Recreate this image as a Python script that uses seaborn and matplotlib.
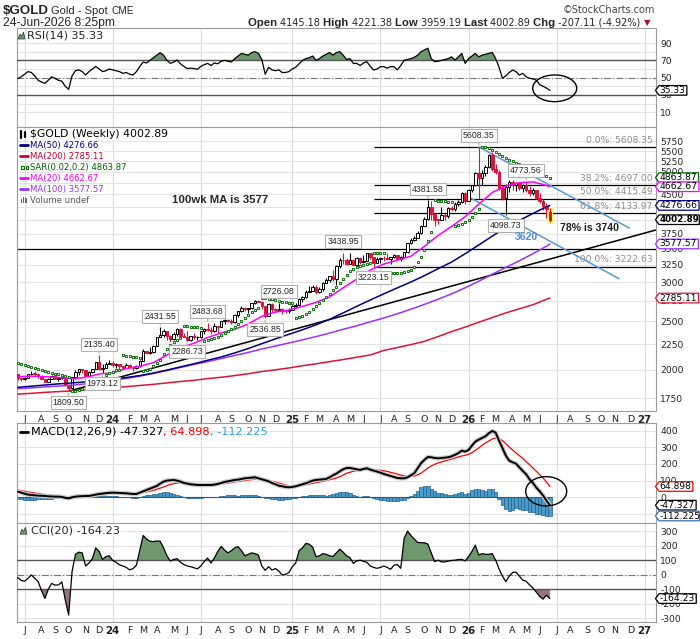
import numpy as np
import pandas as pd
import matplotlib
matplotlib.use("Agg")
import matplotlib.pyplot as plt
import matplotlib.dates as mdates
from matplotlib.patches import Polygon, Ellipse, Rectangle
from matplotlib.ticker import NullLocator
import seaborn as sns

sns.set_theme(style="white")
plt.rcParams["font.family"] = ["DejaVu Sans"]

W, H = 700, 639

# ---------------- data (weekly bars, first bar = week of 2023-06-19) ----------------
first_week = "2023-06-19"
opens = [1958,1921,1919,1925,1955,1962,1959,1943,1914,1889,
         1914,1940,1919,1924,1925,1866,1833,1932,1981,2006,
         1992,1940,1981,2002,2072,2004,2019,2053,2063,2045,
         2049,2029,2018,2039,2024,2013,2035,2083,2179,2155,
         2165,2230,2329,2344,2392,2337,2301,2360,2415,2334,
         2327,2293,2332,2321,2326,2391,2411,2400,2386,2443,
         2431,2507,2512,2503,2497,2578,2622,2658,2653,2657,
         2721,2747,2737,2685,2563,2715,2650,2633,2648,2622,
         2621,2640,2690,2703,2770,2800,2861,2883,2936,2858,
         2910,2984,3023,3084,3037,3237,3327,3319,3258,3325,
         3250,3357,3289,3310,3433,3368,3274,3337,3355,3350,
         3336,3363,3398,3336,3371,3448,3586,3643,3685,3760,
         3886,4018,4250,4113,4002,4000,4085,4065,4220,4200,
         4300,4340,4530,4370,4600,4690,4980,4860,4980,5110,
         5400,5060,5000,4640,4420,4650,4760,4700,4740,4640,
         4690,4600,4520,4590,4430,4360,4270,4145.18]
highs = [1958,1926,1935,1963,1987,1983,1972,1948,1916,1925,
         1953,1953,1933,1947,1936,1871,1933,1997,2009,2010,
         1993,1988,2008,2075,2135.40,2048,2071,2088,2078,2062,
         2057,2036,2066,2050,2031,2041,2088,2195,2183,2223,
         2236,2330,2431.55,2418,2393,2352,2378,2422,2430,2364,
         2388,2336,2369,2339,2392,2424,2483.68,2432,2477,2447,
         2509,2531,2528,2529,2586,2625,2685,2672,2664,2724,
         2758,2765,2750,2688,2721,2721,2665,2726.08,2664,2639,
         2665,2697,2725,2786,2817,2886,2942,2955,2956,2930,
         3005,3057,3087,3168,3245,3357,3438.95,3360,3435,3330,
         3365,3366,3403,3437,3436,3370,3365,3375,3377,3434,
         3363,3409,3400,3379,3453,3600,3674,3707,3791,3897,
         4059,4381.58,4370,4118,4020,4245,4130,4245,4265,4350,
         4380,4550,4560,4620,4700,5000,5608.35,5050,5150,5420,
         5475,5180,5040,4700,4720,4820,4800,4770,4760,4720,
         4773.56,4680,4640,4600,4520,4400,4330,4221.38]
lows = [1910,1893,1902,1922,1951,1942,1926,1912,1885,1884,
        1913,1915,1901,1913,1857,1809.50,1833,1917,1953,1970,
        1932,1931,1965,2001,1993,1973.12,2016,2050,2024,2013,
        2002,2001,2012,2015,1984,2010,2025,2079,2146,2146,
        2163,2228,2326,2324,2291,2277,2298,2338,2325,2323,
        2286.73,2288,2303,2293,2319,2353,2393,2353,2380,2365,
        2431,2470,2491,2472,2485,2546,2615,2624,2604,2646,
        2709,2730,2643,2536.85,2560,2605,2614,2627,2583,2602,
        2597,2633,2656,2700,2733,2790,2860,2880,2833,2855,
        2880,2982,3000,3015,2957,3194,3260,3245,3255,3240,
        3248,3260,3280,3300,3340,3223.15,3270,3283,3310,3325,
        3268,3350,3330,3311,3365,3437,3580,3627,3680,3755,
        3884,4000,4004,3886,3930,3995,4000,4040,4160,4165,
        4270,4330,4300,4360,4560,4680,4400,4700,4900,5080,
        5020,4950,4600,4380,4098.73,4560,4600,4580,4600,4560,
        4560,4470,4480,4400,4330,4180,4040,3959.19]
closes = [1921,1919,1925,1955,1962,1959,1943,1914,1889,1914,
          1940,1919,1924,1925,1866,1833,1932,1981,2006,1992,
          1940,1981,2002,2072,2004,2019,2053,2063,2045,2049,
          2029,2018,2039,2024,2013,2035,2083,2179,2155,2165,
          2230,2329,2344,2392,2337,2301,2360,2415,2334,2327,
          2293,2332,2321,2326,2391,2411,2400,2386,2443,2431,
          2507,2512,2503,2497,2578,2622,2658,2653,2657,2721,
          2747,2737,2685,2563,2715,2650,2633,2648,2622,2621,
          2640,2690,2703,2770,2800,2861,2883,2936,2858,2910,
          2984,3023,3084,3037,3237,3327,3319,3258,3325,3250,
          3357,3289,3310,3433,3368,3274,3337,3355,3350,3336,
          3363,3398,3336,3371,3448,3586,3643,3685,3760,3886,
          4018,4250,4113,4002,4000,4085,4065,4220,4200,4300,
          4340,4530,4370,4600,4690,4980,4860,4980,5110,5400,
          5060,5000,4640,4420,4650,4760,4700,4740,4640,4690,
          4600,4520,4590,4430,4360,4270,4210,4002.89]
sar = [2062,2055,2046,2036,2026,2016,2006,1996,1985,1975,
       1966,1960,1955,1950,1945,1935,1810,1813,1820,1832,
       1845,1858,1870,1882,1896,1925,1948,1965,1980,1992,
       2000,2135,2131,2127,2123,2118,2113,1984,1995,2010,
       2030,2058,2095,2150,2200,2240,2268,2290,2310,2450,
       2446,2441,2436,2431,2426,2286,2295,2305,2318,2330,
       2345,2365,2390,2415,2440,2470,2505,2545,2580,2610,
       2640,2665,2790,2785,2776,2767,2758,2749,2741,2733,
       2725,2717,2537,2548,2562,2582,2610,2645,2685,2722,
       2758,2796,2840,2885,2935,2985,3040,3100,3150,3185,
       3212,3235,3252,3265,3275,3439,3437,3434,3431,3125,
       3126,3127,3128,3130,3135,3150,3175,3220,3285,3370,
       3480,3620,3790,4381.58,4375,4368,4360,4352,4345,3886,
       3905,3930,3965,4005,4055,4120,4210,5608.35,5595,5570,
       5530,5480,5435,5385,5335,5285,5250,5215,5175,5135,
       5090,5040,5005,4975,4950,4925,4895,4863.87]

# moving averages, read every 4th week (week index in ma_weeks)
ma_weeks = [0,4,8,12,16,20,24,28,32,36,40,44,48,52,56,60,64,68,72,76,
            80,84,88,92,96,100,104,108,112,116,120,124,128,132,136,140,144,148,152,156,157]
ma20 = [1935,1940,1935,1928,1918,1928,1960,1970,2010,2030,2065,2140,2210,2260,2320,2370,2410,2470,2560,2610,
        2635,2680,2730,2800,2920,3040,3170,3260,3320,3380,3540,3720,3880,4060,4300,4540,4680,4750,4770,4690,4662.67]
ma50 = [1842,1852,1862,1872,1880,1890,1902,1913,1928,1945,1968,1995,2025,2055,2088,2120,2160,2205,2255,2305,
        2355,2405,2460,2525,2600,2680,2760,2840,2920,3000,3090,3190,3290,3420,3560,3710,3860,3990,4120,4250,4276.66]
ma100 = [1830,1838,1846,1853,1860,1872,1886,1902,1920,1940,1965,1992,2020,2048,2075,2105,2135,2165,2200,2230,
         2262,2295,2330,2368,2410,2450,2495,2540,2590,2645,2705,2770,2840,2920,3010,3110,3210,3310,3420,3540,3577.57]
ma200 = [1785,1792,1800,1806,1812,1822,1830,1838,1848,1858,1868,1880,1893,1903,1918,1930,1945,1962,1982,1998,
         2015,2036,2054,2075,2095,2118,2140,2185,2215,2245,2280,2330,2385,2435,2490,2545,2600,2650,2700,2770,2785.11]

rsi = [49,51,54,57,56,52,47,45,43.5,47,
       51,49,47,46,40,36.5,52,58,59,57,
       53,57,60,63,60,57,58,60,59,58,
       57,55,56,54,53,57,63,68,67,70,
       73,76,78.8,76,70,66.5,68,70.4,66,63,
       60.5,61,60.5,59.6,63,65,66.5,64,67,66,
       69,70,69,68,72,75,78,77,76,79,
       80,78,71,54,62,59,58,59,56,56,
       57,60,62,66,70,72,73,75,70,72,
       75,77,79,76,79,80,76,71,72,66.5,
       66.5,64,67,68.4,63,58.8,60,62.7,62.7,61,
       62.7,62.7,59,64,70,71,72,73.5,76,80,
       82,84,72,68.4,69,70,71,72,74,70.4,
       74,78,66.5,72,75,78,74,76,77,78,
       79.2,72,62,49.3,52,56,58.8,57,53,55,
       51,49.3,48.5,47,42,40,38,35.33]
macd = [34,28,22,16,14,12,10,9,8,6,
        5,4,4,2,-3,-6,0,4,6,7,
        8,8,12,16,20,22,25,27,28,27,
        26,25,24,22,20,20,28,36,44,52,
        60,68,82,94,100,102,104,100,94,86,
        82,78,76,74,74,74,74,74,76,80,
        86,92,96,100,104,106,110,114,116,118,
        120,114,108,102,96,86,78,70,66,62,
        60,62,66,72,78,84,92,100,104,106,
        108,110,120,132,142,156,168,176,176,172,
        168,164,170,174,166,160,154,148,140,134,
        128,122,116,114,114,120,132,145,175,205,
        225,242,240,236,234,236,238,240,246,255,
        265,280,274,284,310,334,346,356,366,385,
        398,388,340,296,250,220,210,202,180,158,
        138,108,86,58,36,10,-20,-47.327]
signal = [44,40,36,32,29,26,23,20,17,15,
          13,10,8,6,3,0,1,2,3,4,
          5,6,8,10,12,14,16,18,20,21,
          22,23,23,23,23,24,26,29,32,37,
          42,48,55,62,70,77,82,85,87,86,
          85,84,82,80,77,75,74,74,74,76,
          78,82,85,88,92,96,98,101,104,106,
          108,108,107,104,100,96,91,86,80,74,
          70,68,68,70,72,75,79,84,88,92,
          96,100,106,110,116,124,134,144,150,156,
          160,163,165,166,166,165,164,162,159,155,
          150,145,139,133,128,125,125,128,135,145,
          160,175,188,198,206,212,218,224,230,236,
          242,248,252,258,268,282,296,312,326,338,
          350,356,352,340,322,302,284,266,250,234,
          214,196,176,156,136,116,92,64.898]
hist = [-10,-12,-14,-16,-15,-14,-13,-11,-9,-9,
        -8,-6,-4,-4,-6,-6,-1,2,3,3,
        3,2,4,6,8,8,9,9,8,6,
        4,2,1,-1,-3,-4,2,7,12,15,
        18,20,27,32,30,25,22,15,7,0,
        -3,-6,-6,-6,-3,-1,0,0,2,4,
        8,10,11,12,12,10,12,13,12,12,
        12,6,1,-2,-4,-10,-13,-16,-14,-12,
        -10,-6,-2,2,6,9,13,16,16,14,
        12,10,14,22,26,32,34,32,26,16,
        8,1,5,8,0,-5,-10,-14,-19,-21,
        -22,-23,-23,-19,-14,-5,7,17,40,60,
        65,67,52,38,28,24,20,16,16,19,
        23,32,22,26,42,52,50,44,40,47,
        48,32,-12,-44,-72,-82,-74,-64,-70,-76,
        -76,-88,-90,-98,-100,-106,-112,-112.225]
cci = [-20,-40,-45,-25,-2,-25,-48,-110,-163,-100,
       -60,-72,-70,-50,-174,-277,20,140,155,150,
       60,80,110,185,160,105,125,130,98,85,
       68,60,50,33,42,65,170,270,245,230,
       228,232,230,185,130,94,105,110,85,70,
       60,55,48,40,60,90,115,80,115,160,
       195,170,150,165,185,193,165,130,140,150,
       145,135,60,30,55,32,42,25,-2,2,
       15,55,80,165,185,215,210,190,124,130,
       145,140,130,125,150,175,155,130,118,78,
       95,100,92,85,60,50,44,50,60,50,
       37,65,70,44,250,300,270,245,222,220,
       220,210,150,90,100,88,88,93,98,100,
       104,106,95,124,160,204,135,145,140,140,
       145,100,40,-10,-48,-10,15,18,-10,-38,
       -45,-70,-92,-120,-150,-168,-142,-164.23]

# labelled swing highs / lows (week index)
swing_highs = [24, 42, 56, 77, 96, 121, 136, 150]
swing_lows = [15, 25, 50, 73, 105, 144]
# Fibonacci retracement drawn from the week-105 low to the week-136 high
fib_pcts = ["0.0%", "38.2%", "50.0%", "61.8%", "100.0%"]
fib_levels = [5608.35, 4697.00, 4415.49, 4133.97, 3222.63]
fib_start_week = 105
support_level = 3500
# hand-drawn trend lines: (date, price) pairs
trend_black = [("2023-10-02", 1809.5), ("2027-01-27", 3817)]
trend_blue1 = [("2026-01-26", 5608.35), ("2026-12-04", 3846)]
trend_blue2 = [("2025-12-25", 4508), ("2026-11-13", 3042)]
# axis levels whose labels sit fully under a value tag in the reference
price_ticks = list(range(1750, 5751, 250))
price_hidden = [4000, 4250, 4750]
macd_ticks = [-100, 0, 100, 200, 300, 400]
macd_hidden = [-100]

RED = "#dc143c"
C_MA50, C_MA200, C_SAR, C_MA20, C_MA100 = "#000080", "#dc143c", "#006400", "#ff00ff", "#9933ff"

# ---------------- helpers ----------------
def fx(px): return px / W
def fy(py): return 1 - py / H

fig = plt.figure(figsize=(W / 100, H / 100), dpi=100)
renderer = fig.canvas.get_renderer()
PL, PR = 16.7, 656.0

def panel(top, bottom):
    ax = fig.add_axes([fx(PL), fy(bottom), (PR - PL) / W, (bottom - top) / H])
    ax.set_facecolor("white")
    for s in ax.spines.values():
        s.set_color("#9c9c9c"); s.set_linewidth(0.8)
    ax.set_axisbelow(True)
    return ax

dates = pd.date_range(first_week, periods=len(closes), freq="W-MON")
xd = mdates.date2num(dates)
base = mdates.date2num(pd.Timestamp("2024-01-01"))
XL = (base - 198.3, base + 1122.2)
mondays = pd.date_range("2023-06-19", "2027-01-31", freq="W-MON")
firsts = mondays[mondays.day <= 7]
tick_x = mdates.date2num(firsts)
tick_lab = [f"{d.year % 100:02d}" if d.month == 1 else "JFMAMJJASOND"[d.month - 1] for d in firsts]
grid_x = [t for t, d in zip(tick_x, firsts) if d.month in (1, 7)]

def common(ax, yticks, ylim, xlabels=False, hidden=()):
    ax.set_xlim(*XL)
    ax.set_ylim(*ylim)
    ax.set_yticks(yticks)
    ax.yaxis.set_minor_locator(NullLocator())
    ax.set_yticklabels(["" if v in hidden else str(v) for v in yticks])
    ax.yaxis.tick_right()
    ax.tick_params(axis="y", length=0, pad=3, labelsize=6.6, labelcolor="#222222")
    ax.grid(axis="y", color="#e4e4e4", lw=0.8)
    for gx in grid_x:
        ax.axvline(gx, color="#dcdcdc", lw=0.8, zorder=0)
    if xlabels:
        ax.set_xticks(tick_x)
        ax.set_xticklabels(tick_lab)
        ax.tick_params(axis="x", length=2, width=0.6, color="#9c9c9c", pad=1, labelsize=6.8, labelcolor="#222222")
        for t in ax.get_xticklabels():
            if t.get_text().isdigit():
                t.set_fontweight("bold"); t.set_fontsize(7.4)
    else:
        ax.set_xticks([])

def seq_text(x, y, parts, **kw):
    for s, props in parts:
        t = fig.text(fx(x), fy(y), s, va="center", ha="left", **{**kw, **props})
        x += t.get_window_extent(renderer=renderer).width
    return x

def tag(ax, val, txt, ec, bold=False):
    py = H - ax.transData.transform((XL[0], val))[1]
    t = fig.text(fx(659.5), fy(py), txt, fontsize=6.3 if bold else 6.6, va="center", ha="left",
                 weight="bold" if bold else "normal", color="black", zorder=11)
    x1 = min(659.5 + t.get_window_extent(renderer=renderer).width + 1.5, 699.3)
    h = 4.8
    pts = [(655.5, py), (659, py - h), (x1, py - h), (x1, py + h), (659, py + h)]
    fig.add_artist(Polygon([(fx(a), fy(b)) for a, b in pts], closed=True, transform=fig.transFigure,
                           fc="white", ec=ec, lw=0.9, zorder=10))

def mountain_icon(x0, yc):
    pts = [(x0, yc + 3.5), (x0 + 2, yc - 1.5), (x0 + 3.5, yc + 1), (x0 + 5.5, yc - 3.5), (x0 + 7, yc + 3.5)]
    fig.add_artist(Polygon([(fx(a), fy(b)) for a, b in pts], closed=True, transform=fig.transFigure,
                           fc="#6f986f", ec="#333333", lw=0.5, zorder=12))

# ---------------- header ----------------
FN = ["Liberation Sans Narrow", "Liberation Sans", "DejaVu Sans"]
fig.text(fx(3), fy(10.5), "$GOLD", fontsize=9.6, weight="bold", family=FN, va="center")
fig.text(fx(51), fy(10.5), "Gold - Spot", fontsize=8, family=FN, va="center")
fig.text(fx(112), fy(11), "CME", fontsize=7.2, family=FN, va="center")
fig.text(fx(3), fy(22.7), "24-Jun-2026 8:25pm", fontsize=8.7, family=FN, va="center")
B = {"weight": "bold", "fontsize": 8.2, "family": FN}
N = {"fontsize": 7.0, "family": ["DejaVu Sans"]}
seq_text(248, 22.7, [("Open ", B), ("4145.18 ", N), ("High ", B), ("4221.38 ", N), ("Low ", B),
                     ("3959.19 ", N), ("Last ", B), ("4002.89 ", N), ("Chg ", B), ("-207.11 (-4.92%) ", N),
                     ("▼", {"fontsize": 6, "color": "#a0102a"})])
fig.text(fx(655), fy(10), "©StockCharts.com", fontsize=7, color="#444444", ha="right", va="center")

# ---------------- RSI panel ----------------
ax_rsi = panel(28.3, 127.3)
common(ax_rsi, [10, 30, 50, 70, 90], (-7.3, 107))
for v in (20, 40, 60, 80):
    ax_rsi.axhline(v, color="#e4e4e4", lw=0.8, zorder=0)
rsi_a = np.array(rsi)
ax_rsi.fill_between(xd, rsi_a, 70, where=rsi_a > 70, interpolate=True, color="#6f986f", lw=0, zorder=2)
ax_rsi.axhline(70, color="#555555", lw=1.0, zorder=3)
ax_rsi.axhline(30, color="#555555", lw=1.0, zorder=3)
ax_rsi.axhline(50, color="#777777", lw=0.8, ls=(0, (6, 2, 1, 2)), zorder=3)
sns.lineplot(x=xd, y=rsi, ax=ax_rsi, color="black", linewidth=0.9, estimator=None, sort=False, zorder=4)
mountain_icon(18, 35.5)
fig.text(fx(27), fy(35.5), f"RSI(14) {rsi[-1]:.2f}", fontsize=8.0, va="center",
         bbox=dict(fc="white", ec="none", pad=0.5), zorder=11)
fig.add_artist(Ellipse((fx(554.7), fy(88.3)), 44 / W, 26.7 / H, transform=fig.transFigure,
                       fill=False, ec="black", lw=1.0, zorder=9))

# ---------------- main price panel ----------------
ax = panel(127.3, 410.7)
ax.set_yscale("log")
common(ax, price_ticks, (1653.3, 6140), xlabels=True, hidden=price_hidden)

ax.axhline(support_level, color="black", lw=0.9, zorder=2)
ax.hlines(fib_levels, xd[fib_start_week], XL[1], color="black", lw=0.9, zorder=2)
for p, lv in zip(fib_pcts, fib_levels):
    ax.annotate(f"{p}: {lv:.2f}", xy=(XL[1], lv), xytext=(-2.5, 1.5), textcoords="offset points",
                ha="right", va="bottom", fontsize=6.6, color="#8c8c8c", zorder=3)

for (d0, p0), (d1, p1), c in [(trend_black[0], trend_black[1], "black"),
                              (trend_blue1[0], trend_blue1[1], "#5b9bd5"),
                              (trend_blue2[0], trend_blue2[1], "#5b9bd5")]:
    ax.plot([mdates.date2num(pd.Timestamp(d0)), mdates.date2num(pd.Timestamp(d1))], [p0, p1],
            color=c, lw=1.1, zorder=3, solid_capstyle="butt")

# highlight last bar
ax.add_patch(Rectangle((xd[-1] - 5.8, lows[-1] / 1.009), 11.6, highs[-1] * 1.007 - lows[-1] / 1.009,
                       fc="#ffff66", ec="none", zorder=2))

# candles
prev_close = [opens[0]] + closes[:-1]
cols = ["black" if c >= pc else RED for c, pc in zip(closes, prev_close)]
faces = ["white" if c >= o else col for c, o, col in zip(closes, opens, cols)]
ax.vlines(xd, lows, highs, colors=cols, lw=0.8, zorder=4)
body_lo = [min(o, c) for o, c in zip(opens, closes)]
body_h = [max(abs(c - o), c * 0.003) for o, c in zip(opens, closes)]
ax.bar(xd, body_h, bottom=body_lo, width=5.2, color=faces, edgecolor=cols, linewidth=0.7, zorder=5)

xm = xd[ma_weeks]
for series, c, lw in [(ma200, C_MA200, 1.1), (ma100, C_MA100, 1.1), (ma50, C_MA50, 1.1), (ma20, C_MA20, 1.1)]:
    sns.lineplot(x=xm, y=series, ax=ax, color=c, linewidth=lw, estimator=None, sort=False, zorder=6)
ax.scatter(xd, sar, marker="s", s=2.6, facecolors="#ffffff", edgecolors="#0e7a0e", linewidths=0.7, zorder=7)

lab_box = dict(boxstyle="square,pad=0.22", fc="white", ec="#b0b0b0", lw=0.8)
lab_arrow = dict(arrowstyle="-", color="#b0b0b0", lw=0.8, shrinkA=0, shrinkB=1.5)
for i in swing_highs:
    ax.annotate(f"{highs[i]:.2f}", xy=(xd[i], highs[i]), xytext=(0, 8), textcoords="offset points",
                ha="center", va="center", fontsize=6.3, family=["Liberation Sans"], zorder=9,
                bbox=lab_box, arrowprops=lab_arrow)
for i in swing_lows:
    ax.annotate(f"{lows[i]:.2f}", xy=(xd[i], lows[i]), xytext=(0, -8), textcoords="offset points",
                ha="center", va="center", fontsize=6.3, family=["Liberation Sans"], zorder=9,
                bbox=lab_box, arrowprops=lab_arrow)

fig.text(fx(220.5), fy(200), "100wk MA is 3577", fontsize=8.2, weight="bold", family=["Liberation Sans"],
         ha="center", va="center")
fig.text(fx(589), fy(228.3), "78% is 3740", fontsize=7.6, weight="bold", family=["Liberation Sans"],
         color="#222222", ha="center", va="center")
fig.text(fx(526), fy(237.3), "3620", fontsize=7.6, weight="bold", family=["Liberation Sans"],
         color="#4f8fd6", ha="center", va="center")

# legend of the price panel
rows = [(f"$GOLD (Weekly) {closes[-1]:.2f}", "black", 134.3, 7.8, None),
        (f"MA(50) {ma50[-1]:.2f}", C_MA50, 145.2, 6.1, "line"),
        (f"MA(200) {ma200[-1]:.2f}", "#cc0033", 156.2, 6.1, "line"),
        (f"SAR(0.02,0.2) {sar[-1]:.2f}", C_SAR, 167.3, 6.1, "sq"),
        (f"MA(20) {ma20[-1]:.2f}", C_MA20, 178.3, 6.1, "line"),
        (f"MA(100) {ma100[-1]:.2f}", C_MA100, 189.3, 6.1, "line"),
        ("Volume undef", "#555555", 200.2, 6.1, "vol")]
for txt, c, y, fs, icon in rows:
    fig.text(fx(29.7), fy(y), txt, fontsize=fs, color=c, va="center",
             bbox=dict(fc="white", ec="none", pad=0.3), zorder=11)
    if icon == "line":
        fig.add_artist(plt.Line2D([fx(20), fx(28)], [fy(y), fy(y)], color=c, lw=2, transform=fig.transFigure, zorder=12))
    elif icon == "sq":
        for xx in (21, 25.5):
            fig.add_artist(Rectangle((fx(xx), fy(y + 1.5)), 2.5 / W, 2.5 / H, transform=fig.transFigure,
                                     fc="white", ec=c, lw=0.8, zorder=12))
    elif icon == "vol":
        for k, hh in enumerate((4, 6, 5)):
            fig.add_artist(Rectangle((fx(20.5 + 2.3 * k), fy(y + 3)), 1.6 / W, hh / H, transform=fig.transFigure,
                                     fc="#666666", ec="none", zorder=12))
    else:
        for xx, y0, y1 in ((21, y - 3.5, y + 3.5), (25, y - 2.5, y + 3)):
            fig.add_artist(plt.Line2D([fx(xx), fx(xx)], [fy(y0), fy(y1)], color="black", lw=1.6,
                                      transform=fig.transFigure, zorder=12))

# ---------------- MACD panel ----------------
ax_m = panel(423.3, 523.3)
common(ax_m, macd_ticks, (-156, 444), hidden=macd_hidden)
ax_m.bar(xd, hist, width=7, color="#4a9ccc", edgecolor="#245f88", linewidth=0.5, zorder=2)
ax_m.hlines(0, xd[0] - 3.5, xd[-1] + 3.5, color="#245f88", lw=0.8, zorder=2)
sns.lineplot(x=xd, y=signal, ax=ax_m, color="#ff0000", linewidth=0.9, estimator=None, sort=False, zorder=3)
ax_m.plot(xd, macd, color="#c8c8c8", lw=3.2, zorder=3.5, solid_capstyle="round")
sns.lineplot(x=xd, y=macd, ax=ax_m, color="black", linewidth=1.4, estimator=None, sort=False, zorder=4)
fig.add_artist(plt.Line2D([fx(20), fx(28)], [fy(431.7), fy(431.7)], color="black", lw=2,
                          transform=fig.transFigure, zorder=12))
seq_text(31, 431.7, [(f"MACD(12,26,9) {macd[-1]:.3f}", {"color": "black"}),
                     (f", {signal[-1]:.3f}", {"color": "#ff0000"}),
                     (f", {hist[-1]:.3f}", {"color": "#3399cc"})], fontsize=8.1, zorder=11)
fig.add_artist(Ellipse((fx(546.2), fy(491.3)), 41 / W, 29.3 / H, transform=fig.transFigure,
                       fill=False, ec="black", lw=1.0, zorder=9))

# ---------------- CCI panel ----------------
ax_c = panel(523.3, 621.7)
common(ax_c, [-300, -200, -100, 0, 100, 200, 300], (-323.5, 353.7), xlabels=True)
cci_a = np.array(cci)
ax_c.fill_between(xd, cci_a, 100, where=cci_a > 100, interpolate=True, color="#6f986f", lw=0, zorder=2)
ax_c.fill_between(xd, cci_a, -100, where=cci_a < -100, interpolate=True, color="#957478", lw=0, zorder=2)
ax_c.axhline(100, color="#555555", lw=1.0, zorder=3)
ax_c.axhline(-100, color="#555555", lw=1.0, zorder=3)
ax_c.axhline(0, color="#777777", lw=0.8, ls=(0, (6, 2, 1, 2)), zorder=3)
sns.lineplot(x=xd, y=cci, ax=ax_c, color="black", linewidth=0.9, estimator=None, sort=False, zorder=4)
mountain_icon(20, 530.7)
fig.text(fx(31), fy(530.7), f"CCI(20) {cci[-1]:.2f}", fontsize=8.1, va="center",
         bbox=dict(fc="white", ec="none", pad=0.5), zorder=11)

# ---------------- right-hand value tags ----------------
tag(ax, sar[-1], f"{sar[-1]:.2f}", C_SAR)
tag(ax, ma20[-1], f"{ma20[-1]:.2f}", C_MA20)
tag(ax, ma50[-1], f"{ma50[-1]:.2f}", C_MA50)
tag(ax, closes[-1], f"{closes[-1]:.2f}", "black", bold=True)
tag(ax, ma100[-1], f"{ma100[-1]:.2f}", C_MA100)
tag(ax, ma200[-1], f"{ma200[-1]:.2f}", C_MA200)
tag(ax_rsi, rsi[-1], f"{rsi[-1]:.2f}", "black")
tag(ax_m, signal[-1], f"{signal[-1]:.3f}", "#ff0000")
tag(ax_m, macd[-1], f"{macd[-1]:.3f}", "black")
tag(ax_m, hist[-1], f"{hist[-1]:.3f}", "#3a6fb0")
tag(ax_c, cci[-1], f"{cci[-1]:.2f}", "black")

fig.savefig("out.png", dpi=100)
